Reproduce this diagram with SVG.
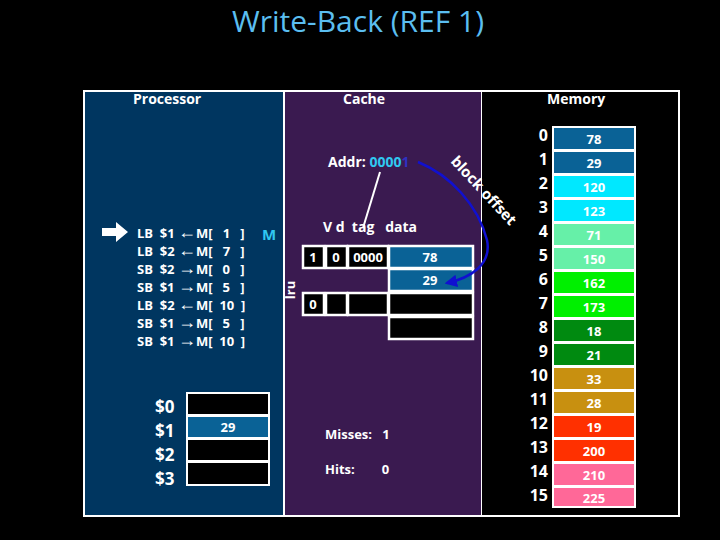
<svg xmlns="http://www.w3.org/2000/svg" width="720" height="540" viewBox="0 0 720 540">
<style>
text{font-family:"Open Sans","Liberation Sans",sans-serif;font-weight:bold;fill:#fff;white-space:pre}
.h{font-size:14px}
.i{font-size:13px}
.a{font-size:18px;font-weight:normal}
.c{font-size:13px;text-anchor:middle}
.m{font-size:13px;text-anchor:middle}
.n{font-size:16px;text-anchor:end}
.r{font-size:17px}
.cell{stroke:#fff;stroke-width:2.5}
</style>
<defs>
<marker id="ah" viewBox="0 0 10 10" refX="8" refY="5" markerWidth="5" markerHeight="5" orient="auto"><path d="M0,0L10,5L0,10z" fill="#1010d0"/></marker>
</defs>
<rect width="720" height="540" fill="#000"/>
<text x="358" y="32" style="font-size:30px;font-weight:normal;fill:#5bbef0;text-anchor:middle">Write-Back (REF 1)</text>
<rect x="83" y="90" width="597" height="427" fill="#fff"/>
<g id="processor">
<rect x="85" y="92" width="198" height="423" fill="#003660"/>
<text x="133" y="104" class="h">Processor</text>
<path d="M102,228h14v-6l12,10l-12,10v-6h-14z" fill="#fff"/>
<g class="i">
<text x="137" y="238" xml:space="preserve">LB  $1 <tspan class="a">←</tspan>M[   1   ]</text>
<text x="137" y="256" xml:space="preserve">LB  $2 <tspan class="a">←</tspan>M[   7   ]</text>
<text x="137" y="274" xml:space="preserve">SB  $2 <tspan class="a">→</tspan>M[   0   ]</text>
<text x="137" y="292" xml:space="preserve">SB  $1 <tspan class="a">→</tspan>M[   5   ]</text>
<text x="137" y="310" xml:space="preserve">LB  $2 <tspan class="a">←</tspan>M[  10  ]</text>
<text x="137" y="328" xml:space="preserve">SB  $1 <tspan class="a">→</tspan>M[   5   ]</text>
<text x="137" y="346" xml:space="preserve">SB  $1 <tspan class="a">→</tspan>M[  10  ]</text>
</g>
<text x="262" y="240" style="font-size:15px;fill:#30c8f0">M</text>
<text x="155" y="413" class="r">$0</text>
<text x="155" y="437" class="r">$1</text>
<text x="155" y="461" class="r">$2</text>
<text x="155" y="485" class="r">$3</text>
<rect x="186" y="392" width="84" height="94" fill="#fff"/>
<rect x="188" y="394" width="80" height="20" fill="#000"/>
<rect x="188" y="417" width="80" height="20" fill="#0a6296"/>
<rect x="188" y="440" width="80" height="20" fill="#000"/>
<rect x="188" y="463" width="80" height="21" fill="#000"/>
<text x="228" y="432" class="c">29</text>
</g>
<g id="cache">
<rect x="285" y="92" width="196" height="423" fill="#3a1a50"/>
<text x="343" y="104" class="h">Cache</text>
<text x="328" y="167" class="h">Addr: <tspan style="fill:#30c8f0">0000</tspan><tspan style="fill:#3030c0">1</tspan></text>
<text x="323" y="232" class="h" xml:space="preserve">V d  tag   data</text>
<g class="cell">
<rect x="303" y="246" width="21" height="22" fill="#000"/>
<rect x="326" y="246" width="21" height="22" fill="#000"/>
<rect x="348" y="246" width="40" height="22" fill="#000"/>
<rect x="389" y="246" width="84" height="22" fill="#0a6296"/>
<rect x="389" y="269" width="84" height="22" fill="#0a6296"/>
<rect x="303" y="293" width="21" height="22" fill="#000"/>
<rect x="326" y="293" width="21" height="22" fill="#000"/>
<rect x="348" y="293" width="40" height="22" fill="#000"/>
<rect x="389" y="293" width="84" height="22" fill="#000"/>
<rect x="389" y="317" width="84" height="22" fill="#000"/>
</g>
<text x="313" y="262" class="c">1</text>
<text x="336" y="262" class="c">0</text>
<text x="368" y="262" class="c">0000</text>
<text x="430" y="262" class="c">78</text>
<text x="430" y="285" class="c">29</text>
<text x="313" y="309" class="c">0</text>
<text transform="translate(295,290) rotate(-90)" class="c">lru</text>
<text x="325" y="439" class="i" xml:space="preserve">Misses:   1</text>
<text x="325" y="474" class="i" xml:space="preserve">Hits:        0</text>
</g>
<g id="memory">
<rect x="482" y="92" width="196" height="423" fill="#000"/>
<text x="547" y="104" class="h">Memory</text>
<rect x="552" y="126" width="84" height="382" fill="#fff"/>
<g class="m">
<rect x="554" y="128" width="80" height="21" fill="#0a6296"/><text x="594" y="144">78</text>
<rect x="554" y="152" width="80" height="21" fill="#0a6296"/><text x="594" y="168">29</text>
<rect x="554" y="176" width="80" height="21" fill="#00e8ff"/><text x="594" y="192">120</text>
<rect x="554" y="200" width="80" height="21" fill="#00e8ff"/><text x="594" y="216">123</text>
<rect x="554" y="224" width="80" height="21" fill="#66f0a8"/><text x="594" y="240">71</text>
<rect x="554" y="248" width="80" height="21" fill="#66f0a8"/><text x="594" y="264">150</text>
<rect x="554" y="272" width="80" height="21" fill="#00f000"/><text x="594" y="288">162</text>
<rect x="554" y="296" width="80" height="21" fill="#00f000"/><text x="594" y="312">173</text>
<rect x="554" y="320" width="80" height="21" fill="#008a10"/><text x="594" y="336">18</text>
<rect x="554" y="344" width="80" height="21" fill="#008a10"/><text x="594" y="360">21</text>
<rect x="554" y="368" width="80" height="21" fill="#c89010"/><text x="594" y="384">33</text>
<rect x="554" y="392" width="80" height="21" fill="#c89010"/><text x="594" y="408">28</text>
<rect x="554" y="416" width="80" height="21" fill="#ff3000"/><text x="594" y="432">19</text>
<rect x="554" y="440" width="80" height="21" fill="#ff3000"/><text x="594" y="456">200</text>
<rect x="554" y="464" width="80" height="21" fill="#ff6898"/><text x="594" y="480">210</text>
<rect x="554" y="488" width="80" height="18" fill="#ff6898"/><text x="594" y="503">225</text>
</g>
<g class="n">
<text x="548" y="141">0</text><text x="548" y="165">1</text><text x="548" y="189">2</text><text x="548" y="213">3</text>
<text x="548" y="237">4</text><text x="548" y="261">5</text><text x="548" y="285">6</text><text x="548" y="309">7</text>
<text x="548" y="333">8</text><text x="548" y="357">9</text><text x="548" y="381">10</text><text x="548" y="405">11</text>
<text x="548" y="429">12</text><text x="548" y="453">13</text><text x="548" y="477">14</text><text x="548" y="501">15</text>
</g>
</g>
<g id="connectors">
<line x1="380" y1="172" x2="363" y2="228" stroke="#fff" stroke-width="2"/>
<path d="M418,162C450,175 478,205 487,240C492,265 470,278 447,283" fill="none" stroke="#1010d0" stroke-width="2.5" marker-end="url(#ah)"/>
</g>
<g id="label-blockoffset">
<text transform="translate(450,162) rotate(47)" style="font-size:15px">block offset</text>
</g>
</svg>
